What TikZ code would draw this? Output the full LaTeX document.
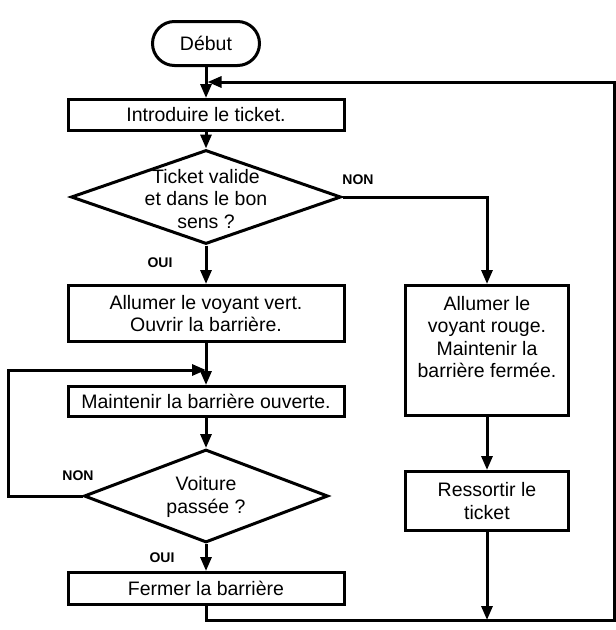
\documentclass[tikz,border=0pt]{standalone}
\usepackage{fontspec}
\setmainfont{Liberation Sans}
\usetikzlibrary{arrows.meta,shapes.geometric}
\begin{document}
\begin{tikzpicture}[x=1pt,y=-1pt,
  every node/.style={font=\fontsize{19.5}{22.5}\selectfont},
  box/.style={draw,line width=3pt,rectangle,inner sep=0pt,align=center},
  dia/.style={draw,line width=3pt,diamond,inner sep=0pt},
  txt/.style={align=center,inner sep=0pt},
  lab/.style={font=\fontsize{14}{15}\selectfont\bfseries,inner sep=0pt},
  conn/.style={line width=3pt},
  arr/.style={conn,-{Triangle[length=14pt,width=11pt]}}]
\useasboundingbox (0,0) rectangle (616,630);
% nodes
\node[box,rounded corners=22pt,minimum width=107pt,minimum height=44pt] (debut) at (206,43.5) {Début};
\node[box,minimum width=276pt,minimum height=31pt] (intro) at (206,115) {Introduire le ticket.};
\node[dia,minimum width=270pt,minimum height=94pt] (d1) at (206,197) {};
\node[txt] (d1t) at (206,199) {Ticket valide\\et dans le bon\\sens ?};
\node[box,minimum width=276pt,minimum height=56pt] (vert) at (206,313.5) {Allumer le voyant vert.\\Ouvrir la barrière.};
\node[box,minimum width=276pt,minimum height=30pt] (maint) at (206,401.5) {Maintenir la barrière ouverte.};
\node[dia,minimum width=244pt,minimum height=93pt] (d2) at (206,496) {};
\node[txt] (d2t) at (206,497) {Voiture\\passée ?};
\node[box,minimum width=276pt,minimum height=32pt] (fermer) at (206,588.5) {Fermer la barrière};
\node[box,minimum width=163pt,minimum height=130pt] (rouge) at (487,350.5) {};
\node[txt] (rouget) at (487,337) {Allumer le\\voyant rouge.\\Maintenir la\\barrière fermée.};
\node[box,minimum width=163pt,minimum height=59pt] (ress) at (487,501) {Ressortir le\\ticket};
% labels
\node[lab] (non1) at (358,180) {NON};
\node[lab] (oui1) at (160,263) {OUI};
\node[lab] (non2) at (78,476) {NON};
\node[lab] (oui2) at (162,558) {OUI};
% coordinates
\coordinate (cr) at (614,620);
\coordinate (jt) at (207.5,82);
\coordinate (lp) at (8,370);
\coordinate (j2) at (206,370);
\coordinate (cb) at (487,620);
% connectors
\draw[arr] (debut.south) -- (intro.north);
\draw[arr] (intro.south) -- (d1.north);
\draw[arr] (d1.south) -- (vert.north);
\draw[arr] (d1.east) -| (rouge.north);
\draw[arr] (vert.south) -- (maint.north);
\draw[arr] (maint.south) -- (d2.north);
\draw[arr] (d2.south) -- (fermer.north);
\draw[arr] (d2.west) -| (lp) -- (j2);
\draw[arr] (rouge.south) -- (ress.north);
\draw[arr] (ress.south) -- (cb);
\draw[arr,line join=miter] (fermer.south) |- (cr) |- (jt);
\end{tikzpicture}
\end{document}
